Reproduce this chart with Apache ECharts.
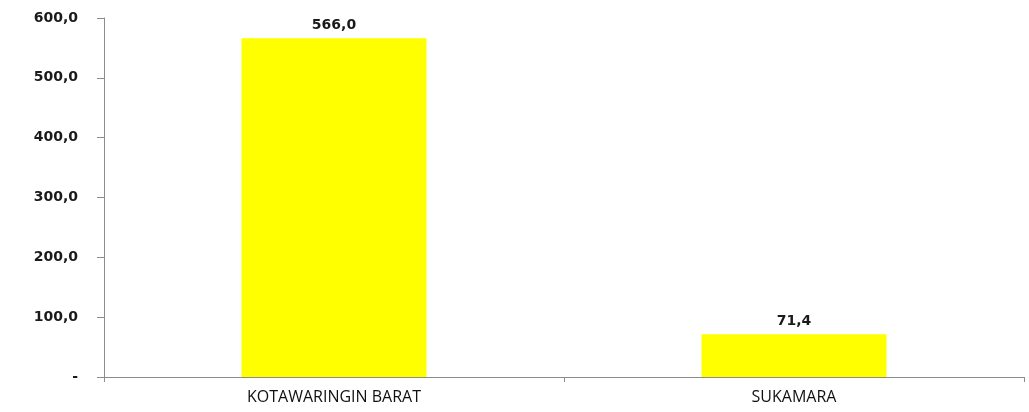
<!DOCTYPE html>
<html><head><meta charset="utf-8">
<script src="https://cdn.jsdelivr.net/npm/echarts@6/dist/echarts.min.js"></script>
<style>html,body{margin:0;padding:0;background:#fff}#c{width:1029px;height:412px}</style>
</head><body><div id="c"></div>
<script>
const categories = ["KOTAWARINGIN BARAT", "SUKAMARA"];
const values = [566.0, 71.4];
const yTicks = [0, 100, 200, 300, 400, 500, 600];

function fmt(v){ return v === 0 ? '-' : v.toFixed(1).replace('.', ','); }

const chart = echarts.init(document.getElementById('c'));
chart.setOption({
  animation: false,
  grid: {left: 104, right: 5, top: 18, bottom: 35},
  xAxis: {
    type: 'category', data: categories,
    axisLine: {lineStyle: {color: '#8c8c8c', width: 1}},
    axisTick: {show: true, length: 5, inside: false, lineStyle: {color: '#8c8c8c'}},
    axisLabel: {color: '#111', fontFamily: '"Open Sans", sans-serif', fontSize: 16, margin: 12}
  },
  yAxis: {
    type: 'value', min: yTicks[0], max: yTicks[yTicks.length-1], interval: 100,
    axisLine: {show: true, lineStyle: {color: '#8c8c8c', width: 1}},
    axisTick: {show: true, length: 7, lineStyle: {color: '#8c8c8c'}},
    splitLine: {show: false},
    axisLabel: {color: '#1a1a1a', fontFamily: '"DejaVu Sans", Verdana, sans-serif', fontWeight: 'bold', fontSize: 14, margin: 26, formatter: fmt}
  },
  series: [{
    type: 'bar', data: values, barWidth: 185,
    itemStyle: {color: '#ffff00'},
    label: {show: true, position: 'top', distance: 6, color: '#1a1a1a',
      fontFamily: '"DejaVu Sans", Verdana, sans-serif', fontWeight: 'bold', fontSize: 14,
      formatter: p => fmt(p.value)}
  }]
});
</script></body></html>
